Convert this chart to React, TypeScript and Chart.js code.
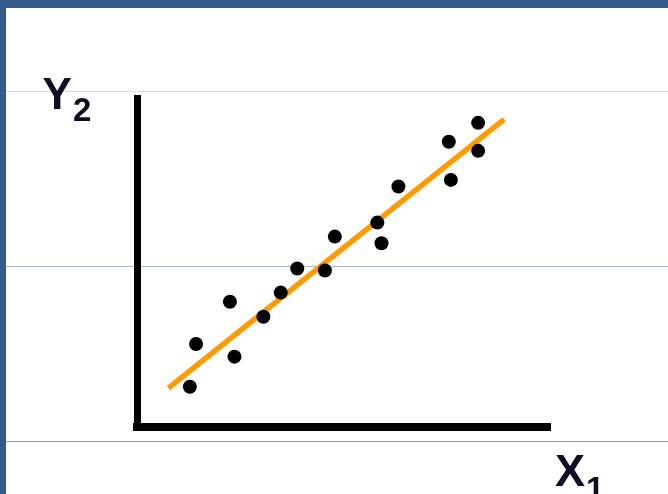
import React, { useEffect, useRef } from "react";
import { Chart, registerables } from "chart.js";

Chart.register(...registerables);

// Scatter observations (X1, Y2)
const xValues = [1.28, 1.43, 2.25, 2.36, 3.06, 3.48, 3.88, 4.55, 4.79, 5.82, 5.92, 6.33, 7.55, 7.60, 8.26, 8.26];
const yValues = [1.55, 2.77, 3.98, 2.41, 3.55, 4.24, 4.93, 4.87, 5.84, 6.24, 5.65, 7.27, 8.55, 7.46, 9.09, 8.29];

// Fitted trend line end points
const fitX = [0.76, 8.89];
const fitY = [1.51, 9.19];

// Slide guide lines (in y units)
const guideValues = [0, 5, 10];
const guideColors = ["#829fc2", "#a9b6cc", "#d6dde9"];

const guidePlugin = {
  id: "guides",
  beforeDraw(chart: any) {
    const { ctx, scales } = chart;
    const y = scales.y;
    ctx.save();
    guideValues.forEach((v, i) => {
      const py = Math.round(y.getPixelForValue(v)) + 0.5;
      ctx.strokeStyle = guideColors[i];
      ctx.lineWidth = 1.2;
      ctx.beginPath();
      ctx.moveTo(6, py);
      ctx.lineTo(chart.width, py);
      ctx.stroke();
    });
    ctx.restore();
  },
};

const textColor = "#0d0d26";

function Glyph(props: { text: string; size: number; left: number; baseline: number }) {
  const { text, size, left, baseline } = props;
  return (
    <span
      style={{
        position: "absolute",
        left,
        top: baseline - 0.8465 * size,
        fontFamily: "'Liberation Sans', Arial, sans-serif",
        fontWeight: 700,
        fontSize: size,
        lineHeight: `${size}px`,
        color: textColor,
        whiteSpace: "nowrap",
      }}
    >
      {text}
    </span>
  );
}

export default function App() {
  const canvasRef = useRef<HTMLCanvasElement | null>(null);

  useEffect(() => {
    if (!canvasRef.current) return;
    const points = xValues.map((x, i) => ({ x, y: yValues[i] }));
    const line = fitX.map((x, i) => ({ x, y: fitY[i] }));
    const chart = new Chart(canvasRef.current, {
      type: "scatter",
      data: {
        datasets: [
          {
            label: "observations",
            data: points,
            backgroundColor: "#000000",
            borderColor: "#000000",
            pointRadius: 7,
            pointBorderWidth: 0,
            order: 0,
          },
          {
            type: "line" as any,
            label: "fit",
            data: line,
            borderColor: "#ff9a00",
            borderWidth: 5.5,
            pointRadius: 0,
            showLine: true,
            fill: false,
            order: 1,
          } as any,
        ],
      },
      options: {
        animation: false,
        responsive: false,
        events: [],
        layout: { padding: { left: 137, right: 118, top: 98, bottom: 67 } },
        plugins: { legend: { display: false }, tooltip: { enabled: false } },
        scales: {
          x: {
            type: "linear",
            min: 0,
            max: 10,
            grid: { display: false, drawTicks: false },
            ticks: { display: false },
            border: { display: true, color: "#000000", width: 8 },
          },
          y: {
            type: "linear",
            min: 0.4,
            max: 9.8,
            grid: { display: false, drawTicks: false },
            ticks: { display: false },
            border: { display: true, color: "#000000", width: 7 },
          },
        },
      },
      plugins: [guidePlugin],
    });
    return () => chart.destroy();
  }, []);

  return (
    <div
      style={{
        position: "fixed",
        left: 0,
        top: 0,
        width: 668,
        height: 494,
        overflow: "hidden",
        background: "#ffffff",
      }}
    >
      <canvas
        ref={canvasRef}
        width={668}
        height={494}
        style={{ position: "absolute", left: 0, top: 0, width: 668, height: 494 }}
      />
      <div style={{ position: "absolute", left: 0, top: 0, width: 668, height: 8, background: "#355b8b" }} />
      <div style={{ position: "absolute", left: 0, top: 0, width: 6, height: 494, background: "#355b8b" }} />
      <Glyph text="Y" size={44} left={42.5} baseline={109} />
      <Glyph text="2" size={33} left={73} baseline={121} />
      <Glyph text="X" size={45} left={555} baseline={486} />
      <Glyph text="1" size={33} left={586} baseline={499.6} />
      <Glyph text="Y" size={44} left={42} baseline={527} />
    </div>
  );
}
